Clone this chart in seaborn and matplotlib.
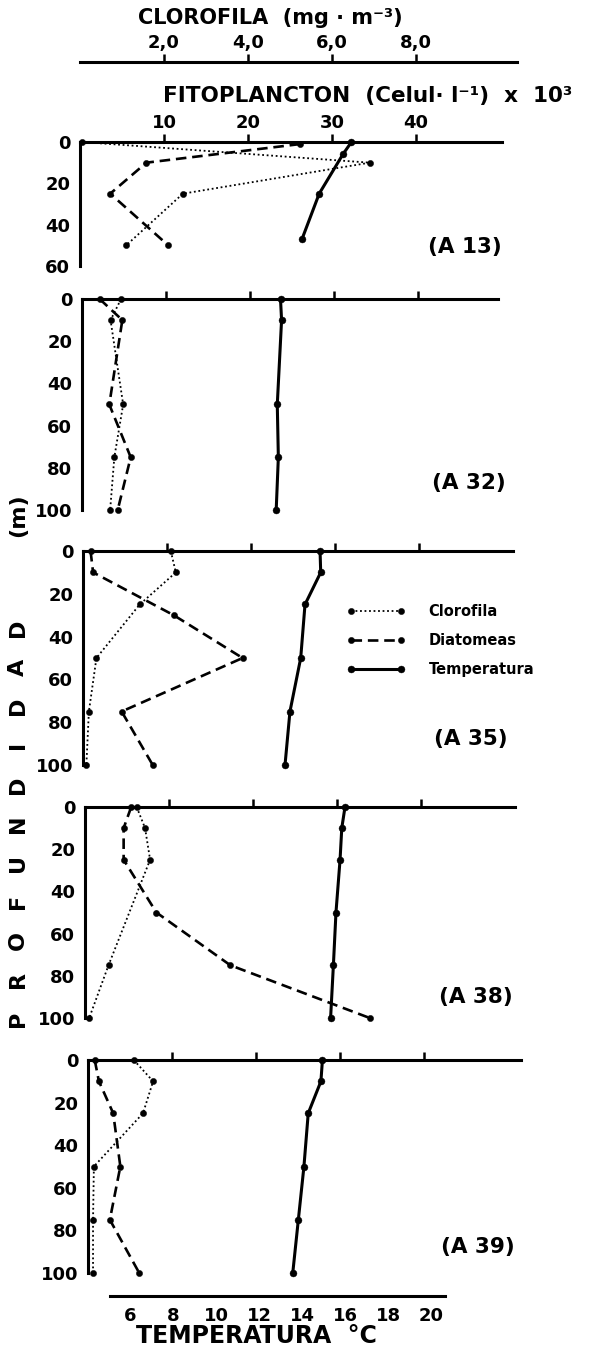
import numpy as np
import pandas as pd
import matplotlib.pyplot as plt
import seaborn as sns
from matplotlib.lines import Line2D

# ---- valores ----
estaciones = ["A13", "A32", "A35", "A38", "A39"]
etiquetas = ["(A 13)", "(A 32)", "(A 35)", "(A 38)", "(A 39)"]

# Clorofila (mg m-3)
clo_prof_a13 = [0, 10, 25, 50]
clo_a13 = [0.05, 6.9, 2.45, 1.1]
clo_prof_a32 = [0, 10, 50, 75, 100]
clo_a32 = [0.93, 0.68, 0.98, 0.77, 0.67]
clo_prof_a35 = [0, 10, 25, 50, 75, 100]
clo_a35 = [2.09, 2.21, 1.35, 0.32, 0.14, 0.08]
clo_prof_a38 = [0, 10, 25, 75, 100]
clo_a38 = [1.23, 1.43, 1.55, 0.56, 0.10]
clo_prof_a39 = [0, 10, 25, 50, 75, 100]
clo_a39 = [1.09, 1.55, 1.31, 0.14, 0.12, 0.12]

# Diatomeas (celul l-1 x 10^3)
dia_prof_a13 = [1, 10, 25, 50]
dia_a13 = [26.2, 7.9, 3.6, 10.5]
dia_prof_a32 = [0, 10, 50, 75, 100]
dia_a32 = [2.1, 4.8, 3.25, 5.8, 4.25]
dia_prof_a35 = [0, 10, 30, 50, 75, 100]
dia_a35 = [0.9, 1.2, 10.8, 19.0, 4.6, 8.3]
dia_prof_a38 = [0, 10, 25, 50, 75, 100]
dia_a38 = [5.5, 4.6, 4.6, 8.5, 17.3, 33.9]
dia_prof_a39 = [0, 10, 25, 50, 75, 100]
dia_a39 = [0.8, 1.3, 3.0, 3.85, 2.6, 6.1]

# Temperatura (C)
tem_prof_a13 = [0, 6, 25, 47]
tem_a13 = [16.3, 15.9, 14.8, 14.0]
tem_prof_a32 = [0, 10, 50, 75, 100]
tem_a32 = [13.0, 13.05, 12.85, 12.9, 12.8]
tem_prof_a35 = [0, 10, 25, 50, 75, 100]
tem_a35 = [14.84, 14.87, 14.14, 13.94, 13.44, 13.21]
tem_prof_a38 = [0, 10, 25, 50, 75, 100]
tem_a38 = [16.0, 15.85, 15.77, 15.58, 15.46, 15.33]
tem_prof_a39 = [0, 10, 25, 50, 75, 100]
tem_a39 = [14.95, 14.88, 14.29, 14.09, 13.83, 13.57]

clo_ticks = [2, 4, 6, 8]
clo_ticklabels = ["2,0", "4,0", "6,0", "8,0"]
fito_ticks = [10, 20, 30, 40]
tem_ticks = [6, 8, 10, 12, 14, 16, 18, 20]

series = {
    "Clorofila": [(clo_prof_a13, clo_a13), (clo_prof_a32, clo_a32), (clo_prof_a35, clo_a35),
                  (clo_prof_a38, clo_a38), (clo_prof_a39, clo_a39)],
    "Diatomeas": [(dia_prof_a13, dia_a13), (dia_prof_a32, dia_a32), (dia_prof_a35, dia_a35),
                  (dia_prof_a38, dia_a38), (dia_prof_a39, dia_a39)],
    "Temperatura": [(tem_prof_a13, tem_a13), (tem_prof_a32, tem_a32), (tem_prof_a35, tem_a35),
                    (tem_prof_a38, tem_a38), (tem_prof_a39, tem_a39)],
}
rows = []
for var, lst in series.items():
    for est, (prof, val) in zip(estaciones, lst):
        for p, v in zip(prof, val):
            rows.append({"estacion": est, "variable": var, "prof": p, "valor": v})
df = pd.DataFrame(rows)

sns.set_theme(style="white")
plt.rcParams["font.family"] = ["DejaVu Sans"]
plt.rcParams["font.weight"] = "bold"
plt.rcParams["text.color"] = "black"
plt.rcParams["xtick.color"] = "black"
plt.rcParams["ytick.color"] = "black"
plt.rcParams["axes.labelcolor"] = "black"

W, H = 592, 1359
fig = plt.figure(figsize=(W / 100, H / 100), dpi=100)


def rect(x0, y0, x1, y1):
    return [x0 / W, 1 - y1 / H, (x1 - x0) / W, (y1 - y0) / H]


# escalas en pixeles
FITO_PX = 8.4     # px por 10^3 celulas
CLO_PX = 42.0     # px por mg m-3
TEM_PX = 21.5     # px por grado
TEM_X0 = 1.0      # px de 0 grados

panel_left = [80, 82, 83, 85, 88]
panel_right = [502, 498, 513, 515, 521]
panel_top = [142, 299, 551, 807, 1060]
panel_bottom = [266, 510, 765, 1018, 1273]
panel_depth = [60, 100, 100, 100, 100]
label_pos = [(465, 51), (469, 87), (471, 88), (476, 90), (478, 88)]

estilo = {
    "Clorofila": dict(color="black", lw=1.3, linestyle=(0, (1, 1.5)), marker="o",
                      markersize=4.5, markeredgecolor="black", markeredgewidth=0.3),
    "Diatomeas": dict(color="black", lw=1.9, linestyle=(0, (4, 2.2)), marker="o",
                      markersize=4.5, markeredgecolor="black", markeredgewidth=0.3),
    "Temperatura": dict(color="black", lw=2.2, linestyle="-", marker="o",
                        markersize=5, markeredgecolor="black", markeredgewidth=0.3),
}

tick_kw = dict(labelsize=13, width=1.8, length=6, color="black", labelcolor="black",
               direction="out")

paneles = []
for i, est in enumerate(estaciones):
    l, r, t, b, dmax = panel_left[i], panel_right[i], panel_top[i], panel_bottom[i], panel_depth[i]
    ax = fig.add_axes(rect(l, t, r, b))
    ax_c = ax.twiny()
    ax_t = ax.twiny()
    sub = df[df.estacion == est]

    sns.lineplot(data=sub[sub.variable == "Clorofila"], x="valor", y="prof", orient="y",
                 sort=False, estimator=None, ax=ax_c, clip_on=False, **estilo["Clorofila"])
    sns.lineplot(data=sub[sub.variable == "Diatomeas"], x="valor", y="prof", orient="y",
                 sort=False, estimator=None, ax=ax, clip_on=False, **estilo["Diatomeas"])
    sns.lineplot(data=sub[sub.variable == "Temperatura"], x="valor", y="prof", orient="y",
                 sort=False, estimator=None, ax=ax_t, clip_on=False, **estilo["Temperatura"])

    ax.set_xlim(0, (r - l) / FITO_PX)
    ax_c.set_xlim(0, (r - l) / CLO_PX)
    ax_t.set_xlim((l - TEM_X0) / TEM_PX, (r - TEM_X0) / TEM_PX)
    ax.set_ylim(dmax, 0)
    ax_c.axis("off")
    ax_t.axis("off")

    ax.set_facecolor("none")
    for s in ["bottom", "right"]:
        ax.spines[s].set_visible(False)
    for s in ["top", "left"]:
        ax.spines[s].set_visible(True)
        ax.spines[s].set_linewidth(2.2)
        ax.spines[s].set_color("black")
    ax.xaxis.tick_top()
    ax.set_xticks(fito_ticks)
    ax.set_yticks(np.arange(0, dmax + 1, 20))
    ax.tick_params(axis="both", **tick_kw, pad=1)
    if i != 0:
        ax.set_xticklabels([])
    ax.set_xlabel("")
    ax.set_ylabel("")
    for lab in ax.get_xticklabels() + ax.get_yticklabels():
        lab.set_fontweight("bold")

    lx, ld = label_pos[i]
    fig.text(lx / W, 1 - (t + ld * (b - t) / dmax) / H, etiquetas[i],
             ha="center", va="center", fontsize=15.5, fontweight="bold")
    paneles.append(ax)

# eje de clorofila (arriba)
ax_clo = fig.add_axes(rect(80, 62, 517, 70))
ax_clo.set_xlim(0, (517 - 80) / CLO_PX)
ax_clo.set_facecolor("none")
for s in ["bottom", "right", "left"]:
    ax_clo.spines[s].set_visible(False)
ax_clo.spines["top"].set_linewidth(2.2)
ax_clo.spines["top"].set_color("black")
ax_clo.xaxis.tick_top()
ax_clo.set_xticks(clo_ticks)
ax_clo.set_xticklabels(clo_ticklabels, fontweight="bold")
ax_clo.set_yticks([])
ax_clo.tick_params(axis="x", **tick_kw, pad=1)

# eje de temperatura (abajo)
ax_tem = fig.add_axes(rect(110, 1288, 445, 1296))
ax_tem.set_xlim((110 - TEM_X0) / TEM_PX, (445 - TEM_X0) / TEM_PX)
ax_tem.set_facecolor("none")
for s in ["top", "right", "left"]:
    ax_tem.spines[s].set_visible(False)
ax_tem.spines["bottom"].set_linewidth(2.2)
ax_tem.spines["bottom"].set_color("black")
ax_tem.set_xticks(tem_ticks)
ax_tem.set_xticklabels([str(v) for v in tem_ticks], fontweight="bold")
ax_tem.set_yticks([])
ax_tem.tick_params(axis="x", **tick_kw, pad=2)

# titulos
fig.text(270 / W, 1 - 18 / H, "CLOROFILA  (mg · m⁻³)", ha="center", va="center",
         fontsize=15, fontweight="bold")
fig.text(368 / W, 1 - 96 / H, "FITOPLANCTON  (Celul· l⁻¹)  x  10³", ha="center", va="center",
         fontsize=15.5, fontweight="bold")
fig.text(256 / W, 1 - 1336 / H, "TEMPERATURA  °C", ha="center", va="center",
         fontsize=17, fontweight="bold")

# rotulo vertical
letras = "PROFUNDIDAD"
for ch, y in zip(letras, np.linspace(1019, 628, len(letras))):
    fig.text(18 / W, 1 - y / H, ch, rotation=90, ha="center", va="center",
             fontsize=16, fontweight="bold")
fig.text(18 / W, 1 - 515 / H, "(m)", rotation=90, ha="center", va="center",
         fontsize=16, fontweight="bold")

# leyenda
handles = [Line2D([0], [0], **estilo[k]) for k in ["Clorofila", "Diatomeas", "Temperatura"]]
paneles[2].legend(handles, ["Clorofila", "Diatomeas", "Temperatura"], frameon=False,
                  numpoints=2, handlelength=4.0, handletextpad=1.6, labelspacing=0.95,
                  prop={"size": 10.5, "weight": "bold"}, loc="upper left",
                  bbox_to_anchor=(347 / W, 1 - 604 / H), bbox_transform=fig.transFigure,
                  borderaxespad=0, borderpad=0)

fig.savefig("out.png", dpi=100, facecolor="white")
